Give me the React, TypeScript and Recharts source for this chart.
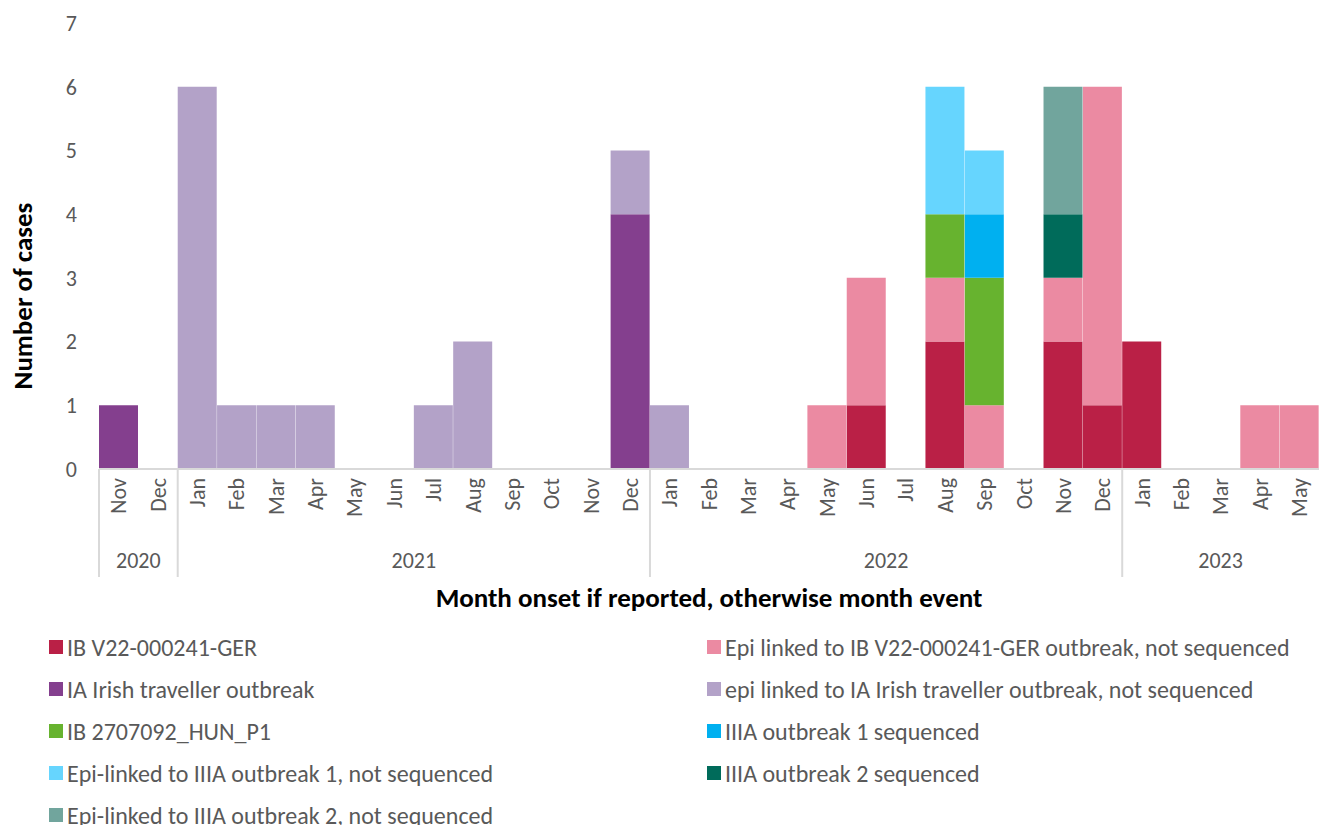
import { BarChart, Bar, XAxis, YAxis } from "recharts";

const months = [
  "Nov", "Dec",
  "Jan", "Feb", "Mar", "Apr", "May", "Jun", "Jul", "Aug", "Sep", "Oct", "Nov", "Dec",
  "Jan", "Feb", "Mar", "Apr", "May", "Jun", "Jul", "Aug", "Sep", "Oct", "Nov", "Dec",
  "Jan", "Feb", "Mar", "Apr", "May",
];
const yearLabels = ["2020", "2021", "2022", "2023"];
const yearMonthCounts = [2, 12, 12, 5];
const yTicks = [0, 1, 2, 3, 4, 5, 6, 7];

// one value per month, Nov 2020 .. May 2023
const ibGer = [0,0, 0,0,0,0,0,0,0,0,0,0,0,0, 0,0,0,0,0,1,0,2,0,0,2,1, 2,0,0,0,0];
const epiGer = [0,0, 0,0,0,0,0,0,0,0,0,0,0,0, 0,0,0,0,1,2,0,1,1,0,1,5, 0,0,0,1,1];
const iaIrish = [1,0, 0,0,0,0,0,0,0,0,0,0,0,4, 0,0,0,0,0,0,0,0,0,0,0,0, 0,0,0,0,0];
const epiIa = [0,0, 6,1,1,1,0,0,1,2,0,0,0,1, 1,0,0,0,0,0,0,0,0,0,0,0, 0,0,0,0,0];
const ibHun = [0,0, 0,0,0,0,0,0,0,0,0,0,0,0, 0,0,0,0,0,0,0,1,2,0,0,0, 0,0,0,0,0];
const iiia1 = [0,0, 0,0,0,0,0,0,0,0,0,0,0,0, 0,0,0,0,0,0,0,0,1,0,0,0, 0,0,0,0,0];
const epiIiia1 = [0,0, 0,0,0,0,0,0,0,0,0,0,0,0, 0,0,0,0,0,0,0,2,1,0,0,0, 0,0,0,0,0];
const iiia2 = [0,0, 0,0,0,0,0,0,0,0,0,0,0,0, 0,0,0,0,0,0,0,0,0,0,1,0, 0,0,0,0,0];
const epiIiia2 = [0,0, 0,0,0,0,0,0,0,0,0,0,0,0, 0,0,0,0,0,0,0,0,0,0,2,0, 0,0,0,0,0];

const series = [
  { key: "ibGer", name: "IB V22-000241-GER", color: "#BA2046", values: ibGer },
  { key: "epiGer", name: "Epi linked to IB V22-000241-GER outbreak, not sequenced", color: "#EB8AA2", values: epiGer },
  { key: "iaIrish", name: "IA Irish traveller outbreak", color: "#843F8E", values: iaIrish },
  { key: "epiIa", name: "epi linked to IA Irish traveller outbreak, not sequenced", color: "#B3A2C8", values: epiIa },
  { key: "ibHun", name: "IB 2707092_HUN_P1", color: "#67B32F", values: ibHun },
  { key: "iiia1", name: "IIIA outbreak 1 sequenced", color: "#00B0F0", values: iiia1 },
  { key: "epiIiia1", name: "Epi-linked to IIIA outbreak 1, not sequenced", color: "#66D5FE", values: epiIiia1 },
  { key: "iiia2", name: "IIIA outbreak 2 sequenced", color: "#006B5A", values: iiia2 },
  { key: "epiIiia2", name: "Epi-linked to IIIA outbreak 2, not sequenced", color: "#71A59D", values: epiIiia2 },
];

const data = months.map((m, i) => {
  const row: Record<string, any> = { key: i, month: m };
  series.forEach((s) => (row[s.key] = s.values[i]));
  return row;
});

const W = 1319;
const AXIS_W = 99;
const BW = (W - AXIS_W) / months.length;
const FONT = "Carlito, 'Open Sans', sans-serif";
const GREY = "#595959";
const TICK_FS = 22;

// index of first month of each year group
const groupStarts: Record<number, number> = {};
{
  let s = 0;
  yearMonthCounts.forEach((c, g) => {
    groupStarts[s] = g;
    s += c;
  });
}

function MonthTick(props: any) {
  const { x, y, payload } = props;
  const i = payload.value as number;
  const g = groupStarts[i];
  return (
    <g>
      <text
        x={x}
        y={y + 9}
        transform={`rotate(-90 ${x} ${y + 9})`}
        textAnchor="end"
        dy="0.35em"
        fill={GREY}
        fontSize={TICK_FS}
        fontFamily={FONT}
      >
        {months[i]}
      </text>
      {g !== undefined && (
        <g>
          <line x1={x - BW / 2} x2={x - BW / 2} y1={y} y2={y + 108} stroke="#D9D9D9" strokeWidth={2} />
          <text
            x={x - BW / 2 + (yearMonthCounts[g] * BW) / 2}
            y={y + 91}
            textAnchor="middle"
            dy="0.35em"
            fill={GREY}
            fontSize={TICK_FS}
            fontFamily={FONT}
          >
            {yearLabels[g]}
          </text>
        </g>
      )}
    </g>
  );
}

export default function App() {
  const left = series.filter((_, i) => i % 2 === 0);
  const right = series.filter((_, i) => i % 2 === 1);
  const legendItem = (s: (typeof series)[number]) => (
    <div key={s.key} style={{ height: 42, display: "flex", alignItems: "center", whiteSpace: "nowrap" }}>
      <span style={{ width: 14, height: 14, background: s.color, display: "inline-block", marginRight: 4 }} />
      <span>{s.name}</span>
    </div>
  );
  return (
    <div style={{ position: "absolute", left: 0, top: 0, width: W, height: 825, background: "#fff", fontFamily: FONT }}>
      <BarChart
        width={W}
        height={579}
        data={data}
        margin={{ top: 23, right: 0, left: 0, bottom: 0 }}
        barCategoryGap={0}
        barGap={0}
      >
        <XAxis
          dataKey="key"
          interval={0}
          height={110}
          tickSize={0}
          tickMargin={0}
          tickLine={false}
          axisLine={{ stroke: "#D9D9D9", strokeWidth: 2 }}
          tick={<MonthTick />}
        />
        <YAxis
          width={AXIS_W}
          domain={[0, 7]}
          ticks={yTicks}
          interval={0}
          axisLine={false}
          tickLine={false}
          tickMargin={0}
          tickSize={0}
          tick={{ fill: GREY, fontSize: TICK_FS, fontFamily: FONT, dx: -22 }}
        />
        {series.map((s) => (
          <Bar key={s.key} dataKey={s.key} name={s.name} stackId="a" fill={s.color} isAnimationActive={false} />
        ))}
      </BarChart>
      <div
        style={{
          position: "absolute",
          left: 22,
          top: 296,
          transform: "translate(-50%, -50%) rotate(-90deg)",
          fontWeight: "bold",
          fontSize: 27,
          whiteSpace: "nowrap",
          color: "#000",
        }}
      >
        Number of cases
      </div>
      <div
        style={{
          position: "absolute",
          left: AXIS_W,
          width: W - AXIS_W,
          top: 581,
          textAlign: "center",
          fontWeight: "bold",
          fontSize: 27,
          color: "#000",
        }}
      >
        Month onset if reported, otherwise month event
      </div>
      <div style={{ position: "absolute", left: 49, top: 626, fontSize: 24, color: GREY }}>
        {left.map(legendItem)}
      </div>
      <div style={{ position: "absolute", left: 707, top: 626, fontSize: 24, color: GREY }}>
        {right.map(legendItem)}
      </div>
    </div>
  );
}
